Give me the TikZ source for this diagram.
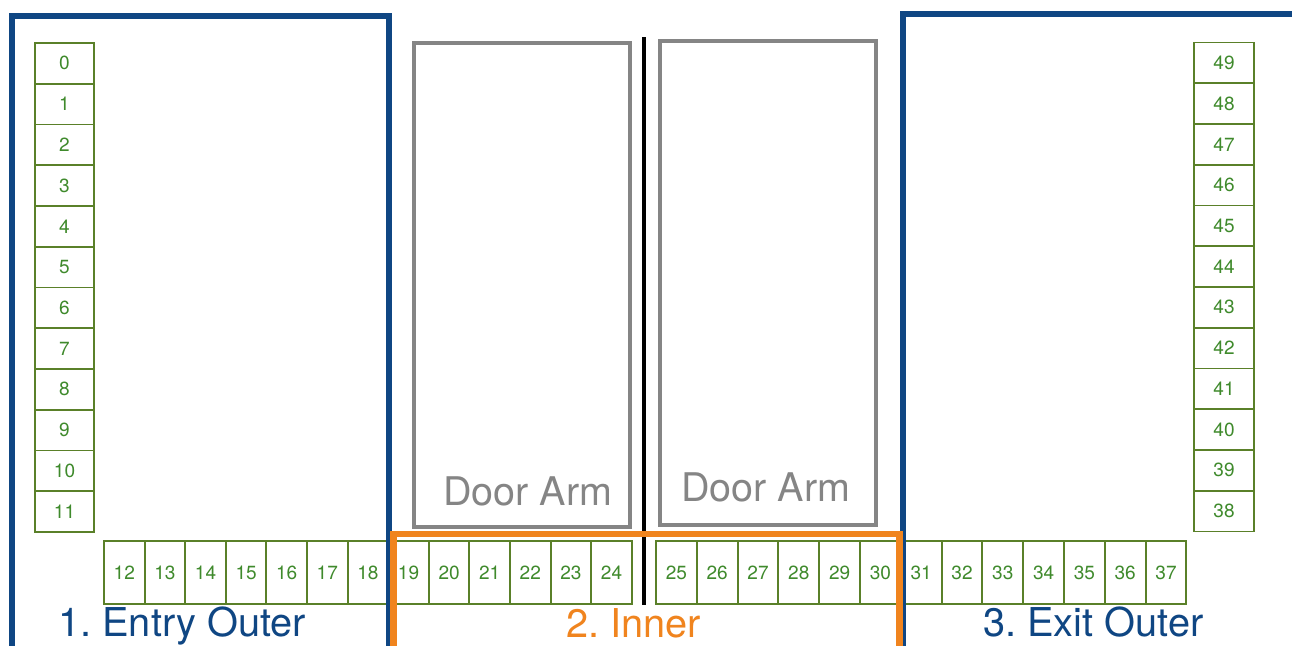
\documentclass[tikz,border=0pt]{standalone}
\usepackage{fontspec}
\setmainfont{TeX Gyre Heros}
\definecolor{zoneblue}{HTML}{0F4683}
\definecolor{zoneorange}{HTML}{F0841E}
\definecolor{armgray}{HTML}{858585}
\definecolor{cellline}{HTML}{5A8029}
\definecolor{numgreen}{HTML}{3F8A2C}
\begin{document}
\frenchspacing
\begin{tikzpicture}[x=0.75pt,y=-0.75pt,
  cellbase/.style={draw=cellline, line width=1.4pt, text=numgreen, inner sep=0pt,
    font=\fontsize{14.3}{15}\selectfont},
  colcellL/.style={cellbase, minimum width=44.25pt, minimum height=30.56pt},
  colcellR/.style={cellbase, minimum width=45pt, minimum height=30.56pt},
  rowcell/.style={cellbase, minimum width=30.5pt, minimum height=47.25pt},
  zone/.style={line width=4.6pt, draw=zoneblue},
  innerzone/.style={line width=4.6pt, draw=zoneorange},
  arm/.style={line width=3pt, draw=armgray, outer sep=0pt, inner sep=0pt},
  divider/.style={line width=3.6pt, draw=black},
  zonelabel/.style={inner sep=0pt, anchor=base west, font=\fontsize{29.8}{32}\selectfont},
  armlabel/.style={inner sep=0pt, anchor=base west, text=armgray, font=\fontsize{29.6}{32}\selectfont}
]
\useasboundingbox (0,0) rectangle (1292,646);
\fill[white] (0,0) rectangle (1292,646);

% door arms and divider
\node[arm, minimum width=162pt, minimum height=363pt, anchor=north west] (arm1) at (414,43) {};
\node[arm, minimum width=162pt, minimum height=363pt, anchor=north west] (arm2) at (660,41) {};
\coordinate (divtop) at (644,37);
\coordinate (divbot) at (644,605);
\draw[divider] (divtop) -- (divbot);

% left column 0..11
\foreach \i in {0,...,11} {
  \node[colcellL] (c\i) at (64.5,{43+40.75*(\i+0.5)}) {\i};
}
% right column 49..38
\foreach \k in {0,...,11} {
  \pgfmathtruncatemacro{\n}{49-\k}
  \node[colcellR] (c\n) at (1224,{42.5+40.75*(\k+0.5)}) {\n};
}
% bottom row 12..24
\foreach \i in {12,...,24} {
  \node[rowcell] (c\i) at ({104+40.6*(\i-12+0.5)},572.5) {\i};
}
% bottom row 25..37
\foreach \i in {25,...,37} {
  \node[rowcell] (c\i) at ({656+40.8*(\i-25+0.5)},572.5) {\i};
}

% zones
\draw[zone] (12,660) -- (12,16) -- (389,16) -- (389,660);
\draw[zone] (1300,14) -- (903,14) -- (903,660);
\draw[innerzone] (393.5,660) -- (393.5,534) -- (899.5,534) -- (899.5,660);

% labels
\node[armlabel] (arml1) at (443,505) {Door Arm};
\node[armlabel] (arml2) at (681,501) {Door Arm};
\node[zonelabel, text=zoneblue] (lab1) at (58,636) {1. Entry Outer};
\node[zonelabel, text=zoneorange] (lab2) at (566,637) {2. Inner};
\node[zonelabel, text=zoneblue] (lab3) at (983,636) {3. Exit Outer};
\end{tikzpicture}
\end{document}
